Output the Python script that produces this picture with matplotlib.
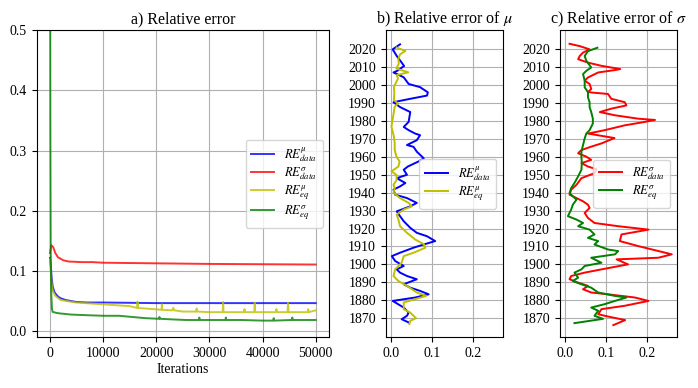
import matplotlib
matplotlib.use('Agg')
import matplotlib.pyplot as plt

plt.rcParams['font.family'] = ['Liberation Serif', 'DejaVu Serif']
plt.rcParams['mathtext.fontset'] = 'stix'

# a) relative error vs iterations
it_mu_data = [0, 150, 300, 500, 800, 1100, 1500, 2000, 3000, 4900, 7000, 10000, 20000, 30000, 40000, 50000]
re_mu_data = [0.122, 0.11, 0.09, 0.075, 0.066, 0.062, 0.058, 0.055, 0.052, 0.049, 0.048, 0.048, 0.047, 0.047, 0.047, 0.047]

it_sig_data = [0, 250, 600, 1000, 1500, 2500, 3500, 6000, 8000, 10000, 20000, 30000, 40000, 50000]
re_sig_data = [0.13, 0.143, 0.14, 0.13, 0.123, 0.118, 0.116, 0.115, 0.115, 0.114, 0.113, 0.112, 0.1115, 0.111]

it_mu_eq = [0, 150, 300, 500, 1000, 2000, 4900, 10000, 15000, 16400, 16480, 16560, 18000, 21000, 21050, 21100,
            23000, 23200, 23400, 25000, 27500, 27600, 27700, 30000, 32500, 32580, 32660, 35000, 36500, 36600,
            36700, 38450, 38530, 38610, 41000, 42500, 42600, 42700, 44700, 44800, 44900, 47000, 48500, 48600,
            48700, 50000]
re_mu_eq = [0.12, 0.1, 0.08, 0.068, 0.059, 0.052, 0.048, 0.045, 0.042, 0.039, 0.0496, 0.039, 0.038, 0.036, 0.045, 0.036,
            0.035, 0.039, 0.035, 0.033, 0.033, 0.038, 0.033, 0.032, 0.032, 0.049, 0.032, 0.032, 0.032, 0.037,
            0.032, 0.032, 0.048, 0.032, 0.032, 0.032, 0.037, 0.032, 0.032, 0.048, 0.032, 0.032, 0.032, 0.037,
            0.032, 0.035]

it_sig_eq = [0, 60, 130, 250, 375, 500, 1100, 1750, 4000, 6770, 10000, 13000, 15500, 18000, 20500, 20600, 20700,
             23000, 25600, 28000, 28100, 28200, 31000, 33000, 33100, 33200, 36000, 40000, 42000, 42100, 42200,
             45500, 45600, 45700, 48000, 50000]
re_sig_eq = [0.9, 0.35, 0.13, 0.06, 0.037, 0.0325, 0.031, 0.030, 0.028, 0.027, 0.026, 0.026, 0.024, 0.022, 0.021, 0.024, 0.021,
             0.020, 0.019, 0.019, 0.023, 0.019, 0.019, 0.019, 0.023, 0.019, 0.019, 0.018, 0.018, 0.022, 0.018,
             0.019, 0.023, 0.019, 0.019, 0.019]

# b) relative error of mu per year
yr_b_data = [1867.6, 1869.4, 1871.3, 1873.1, 1875.9, 1879.6, 1881.5, 1883.3, 1885.2, 1887.0, 1888.9, 1891.7, 1893.5,
             1895.4, 1897.2, 1899.1, 1901.9, 1904.6, 1906.5, 1909.3, 1911.1, 1913.0, 1915.7, 1917.6, 1920.4, 1924.1,
             1926.9, 1929.6, 1932.4, 1934.3, 1937.0, 1938.9, 1941.7, 1943.5, 1945.4, 1948.1, 1950.0, 1952.8, 1954.6,
             1957.4, 1959.2, 1962.9, 1965.6, 1966.6, 1969.3, 1972.1, 1973.0, 1974.9, 1976.7, 1979.5, 1982.3, 1985.0,
             1987.8, 1990.5, 1992.4, 1994.2, 1996.0, 1998.9, 2000.7, 2004.4, 2007.1, 2008.0, 2010.7, 2012.6, 2016.3,
             2020.0, 2022.8]
re_b_data = [0.042, 0.025, 0.038, 0.042, 0.030, 0.003, 0.058, 0.091, 0.070, 0.046, 0.030, 0.062, 0.038,
             0.021, 0.013, 0.030, 0.009, 0.001, 0.021, 0.054, 0.079, 0.107, 0.087, 0.062, 0.046, 0.030,
             0.021, 0.013, 0.046, 0.062, 0.038, 0.009, 0.005, 0.021, 0.034, 0.013, 0.038, 0.030, 0.040,
             0.066, 0.079, 0.062, 0.054, 0.038, 0.062, 0.070, 0.058, 0.042, 0.030, 0.042, 0.044, 0.046,
             0.021, 0.005, 0.046, 0.087, 0.089, 0.070, 0.042, 0.030, 0.005, 0.014, 0.031, 0.025, 0.013,
             0.003, 0.021]

yr_b_eq = [1866.7, 1868.5, 1870.0, 1873.1, 1875.0, 1878.7, 1880.6, 1882.4, 1884.3, 1888.0, 1890.7, 1893.5, 1897.2,
           1900.9, 1904.6, 1906.5, 1909.3, 1911.1, 1913.9, 1917.6, 1921.3, 1925.0, 1927.8, 1930.6, 1932.4, 1934.3,
           1937.0, 1940.0, 1942.6, 1944.4, 1947.2, 1950.0, 1951.9, 1954.6, 1957.4, 1960.2, 1963.9, 1967.6, 1971.3,
           1976.9, 1982.4, 1988.0, 1989.8, 1991.7, 1995.4, 1999.0, 2003.7, 2005.6, 2007.2, 2009.3, 2012.0, 2014.8,
           2017.2, 2019.1, 2021.0]
re_b_eq = [0.044, 0.046, 0.060, 0.046, 0.030, 0.030, 0.058, 0.085, 0.062, 0.038, 0.017, 0.005, 0.009,
           0.025, 0.030, 0.054, 0.083, 0.080, 0.058, 0.038, 0.021, 0.017, 0.013, 0.030, 0.050, 0.042,
           0.021, 0.005, 0.008, 0.005, 0.013, 0.012, 0.000, 0.017, 0.020, 0.012, 0.008, 0.008, 0.006,
           0.000, 0.004, 0.008, 0.016, 0.006, 0.007, 0.006, 0.016, 0.013, 0.041, 0.012, 0.018, 0.017,
           0.021, 0.034, 0.013]

# c) relative error of sigma per year
yr_c_data = [1866.1, 1868.9, 1871.3, 1872.2, 1875.0, 1876.9, 1879.6, 1881.5, 1883.3, 1884.3, 1886.1, 1888.0, 1889.8,
             1891.7, 1893.5, 1895.4, 1897.2, 1900.0, 1902.8, 1903.7, 1905.6, 1910.2, 1913.0, 1916.7, 1919.4, 1921.3,
             1923.1, 1925.9, 1928.7, 1931.5, 1933.3, 1935.2, 1937.0, 1938.9, 1941.7, 1944.4, 1948.1, 1950.9, 1953.1,
             1954.6, 1956.5, 1958.3, 1960.1, 1962.0, 1963.8, 1965.7, 1967.5, 1970.5, 1973.0, 1974.9, 1977.6, 1979.5,
             1980.6, 1981.3, 1983.2, 1985.0, 1986.9, 1988.7, 1990.5, 1992.4, 1995.1, 1996.1, 1997.9, 2000.7, 2002.5,
             2004.3, 2007.1, 2008.4, 2009.0, 2010.8, 2012.6, 2014.5, 2016.3, 2018.2, 2020.0, 2021.8, 2023.1]
re_c_data = [0.117, 0.146, 0.096, 0.080, 0.088, 0.145, 0.203, 0.170, 0.104, 0.063, 0.043, 0.055, 0.031,
             0.010, 0.014, 0.047, 0.088, 0.153, 0.125, 0.227, 0.260, 0.178, 0.133, 0.137, 0.203, 0.129,
             0.071, 0.055, 0.047, 0.059, 0.055, 0.043, 0.027, 0.010, 0.014, 0.027, 0.039, 0.071, 0.076,
             0.055, 0.039, 0.063, 0.051, 0.031, 0.039, 0.063, 0.088, 0.120, 0.055, 0.096, 0.145, 0.194,
             0.219, 0.178, 0.121, 0.084, 0.112, 0.149, 0.145, 0.112, 0.104, 0.055, 0.063, 0.059, 0.047,
             0.055, 0.080, 0.120, 0.134, 0.088, 0.055, 0.031, 0.035, 0.043, 0.059, 0.035, 0.010]

yr_c_eq = [1867.2, 1869.6, 1871.3, 1874.1, 1875.9, 1877.8, 1879.6, 1881.5, 1882.4, 1884.3, 1887.0, 1888.9, 1890.7,
           1892.6, 1895.4, 1897.2, 1899.1, 1900.9, 1903.7, 1905.6, 1907.4, 1908.3, 1911.1, 1913.0, 1914.8, 1916.7,
           1919.4, 1921.3, 1923.1, 1925.0, 1926.9, 1930.6, 1933.3, 1936.1, 1938.0, 1939.8, 1942.6, 1945.4, 1949.1,
           1952.8, 1956.5, 1960.1, 1962.9, 1966.6, 1970.3, 1973.0, 1974.9, 1978.6, 1981.3, 1985.0, 1987.8, 1990.5,
           1993.3, 1996.1, 1998.8, 2002.5, 2006.2, 2008.0, 2009.9, 2013.6, 2016.3, 2019.0, 2020.9]
re_c_eq = [0.022, 0.092, 0.071, 0.080, 0.063, 0.096, 0.121, 0.149, 0.121, 0.080, 0.063, 0.039, 0.018,
           0.031, 0.022, 0.039, 0.047, 0.088, 0.063, 0.121, 0.129, 0.104, 0.071, 0.080, 0.055, 0.071,
           0.059, 0.031, 0.043, 0.027, 0.006, 0.014, 0.018, 0.027, 0.018, 0.010, 0.014, 0.022, 0.031,
           0.039, 0.040, 0.039, 0.039, 0.043, 0.047, 0.051, 0.059, 0.067, 0.067, 0.063, 0.059, 0.059,
           0.055, 0.055, 0.047, 0.047, 0.043, 0.051, 0.063, 0.051, 0.047, 0.055, 0.078]

year_ticks = list(range(1870, 2021, 10))

fig = plt.figure(figsize=(6.98, 3.88), dpi=100)
ax1 = fig.add_axes([0.0526, 0.1302, 0.4187, 0.7925])
ax2 = fig.add_axes([0.5526, 0.1302, 0.1676, 0.7925])
ax3 = fig.add_axes([0.8019, 0.1302, 0.1676, 0.7925], sharex=ax2, sharey=ax2)

lw = 1.4
leg_kw = dict(loc='center right', fontsize=9, labelspacing=0.12, handlelength=1.85,
              borderpad=0.45, handletextpad=0.8)

ax1.plot(it_mu_data, re_mu_data, color='b', lw=lw, alpha=0.8, label=r'$RE^{\mu}_{data}$')
ax1.plot(it_sig_data, re_sig_data, color='r', lw=lw, alpha=0.8, label=r'$RE^{\sigma}_{data}$')
ax1.plot(it_mu_eq, re_mu_eq, color='y', lw=lw, alpha=0.8, label=r'$RE^{\mu}_{eq}$')
ax1.plot(it_sig_eq, re_sig_eq, color='g', lw=lw, alpha=0.8, label=r'$RE^{\sigma}_{eq}$')
ax1.set_ylim(-0.01, 0.5)
ax1.set_xlim(-2500, 52500)
ax1.set_xticks([0, 10000, 20000, 30000, 40000, 50000])
ax1.set_yticks([0.0, 0.1, 0.2, 0.3, 0.4, 0.5])
ax1.set_xlabel('Iterations', fontsize=10, labelpad=2)
ax1.set_title('a) Relative error', fontsize=11.5, pad=5)
ax1.grid(True)
ax1.legend(**leg_kw)

ax2.plot(re_b_data, yr_b_data, color='b', lw=lw, label=r'$RE^{\mu}_{data}$')
ax2.plot(re_b_eq, yr_b_eq, color='y', lw=lw, label=r'$RE^{\mu}_{eq}$')
ax2.set_title(r'b) Relative error of $\mu$', fontsize=11.5, pad=5)
ax2.grid(True)
ax2.legend(**leg_kw)

ax3.plot(re_c_data, yr_c_data, color='r', lw=lw, label=r'$RE^{\sigma}_{data}$')
ax3.plot(re_c_eq, yr_c_eq, color='g', lw=lw, label=r'$RE^{\sigma}_{eq}$')
ax3.set_title(r'c) Relative error of $\sigma$', fontsize=11.5, pad=5)
ax3.grid(True)
ax3.legend(**leg_kw)

ax2.set_xlim(-0.014, 0.272)
ax2.set_xticks([0.0, 0.1, 0.2])
ax2.set_ylim(1859.2, 2030.8)
ax2.set_yticks(year_ticks)
ax3.tick_params(labelleft=True)

for ax in (ax1, ax2, ax3):
    ax.tick_params(labelsize=10)

fig.savefig('out.png', dpi=100)
